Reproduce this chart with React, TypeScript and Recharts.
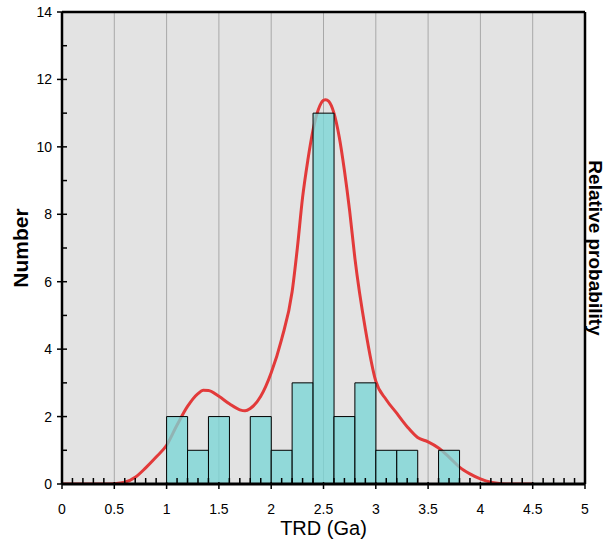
import React from 'react';
import { ComposedChart, Bar, Line, XAxis, YAxis, CartesianGrid, ReferenceLine } from 'recharts';

// Histogram bins (Ga, bin centre) and counts
const binCenters = [1.1, 1.3, 1.5, 1.7, 1.9, 2.1, 2.3, 2.5, 2.7, 2.9, 3.1, 3.3, 3.5, 3.7];
const binCounts = [2, 1, 2, 0, 2, 1, 3, 11, 2, 3, 1, 1, 0, 1];

// Relative probability curve (scaled to Number axis)
const probX = [0, 0.1, 0.2, 0.3, 0.4, 0.5, 0.6, 0.7, 0.8, 0.9, 1.0, 1.1, 1.2, 1.3, 1.35, 1.4, 1.5, 1.6, 1.7, 1.75, 1.8, 1.9, 2.0, 2.1, 2.2, 2.25, 2.3, 2.35, 2.4, 2.45, 2.5, 2.52, 2.55, 2.6, 2.65, 2.7, 2.75, 2.8, 2.9, 3.0, 3.1, 3.2, 3.3, 3.4, 3.5, 3.6, 3.7, 3.8, 3.9, 4.0, 4.1, 4.2, 4.3, 4.4, 4.5];
const probY = [0, 0, 0, 0, 0, 0.01, 0.05, 0.2, 0.48, 0.8, 1.15, 1.75, 2.3, 2.68, 2.78, 2.77, 2.6, 2.38, 2.2, 2.17, 2.24, 2.6, 3.3, 4.3, 5.7, 7.0, 8.5, 9.6, 10.5, 11.1, 11.38, 11.4, 11.35, 11.0, 10.3, 9.3, 8.1, 6.7, 4.6, 3.05, 2.5, 2.1, 1.7, 1.38, 1.25, 1.07, 0.8, 0.5, 0.3, 0.15, 0.05, 0.01, 0, 0, 0];

const yTicks = [0, 1, 2, 3, 4, 5, 6, 7, 8, 9, 10, 11, 12, 13, 14];
const xMajorTicks = [0, 0.5, 1, 1.5, 2, 2.5, 3, 3.5, 4, 4.5, 5];
const gridX = [0.5, 1, 1.5, 2, 2.5, 3, 3.5, 4, 4.5];
const xTicks = Array.from({ length: 51 }, (_, i) => i / 10);

const key = (v: number) => v.toFixed(2);
const rowMap = new Map<string, any>();
probX.forEach((x, i) => rowMap.set(key(x), { x, prob: probY[i] }));
binCenters.forEach((x, i) => {
  const r = rowMap.get(key(x)) || { x };
  r.bx = x;
  r.count = binCounts[i];
  rowMap.set(key(x), r);
});
const data = Array.from(rowMap.values()).sort((a, b) => a.x - b.x);

const FONT = 'Liberation Sans, Arial, sans-serif';

const YTick = (props: any) => {
  const { x, y, payload } = props;
  const v = payload.value;
  const major = v % 2 === 0;
  return (
    <g>
      {major ? (
        <line x1={x - 5} x2={x + 5} y1={y} y2={y} stroke="#000" strokeWidth={1.5} />
      ) : (
        <line x1={x} x2={x + 5} y1={y} y2={y} stroke="#000" strokeWidth={1.5} />
      )}
      {major && (
        <text x={x - 10} y={y} textAnchor="end" dominantBaseline="central" fontSize={14} fontFamily={FONT} fill="#000">
          {v}
        </text>
      )}
    </g>
  );
};

const XTick = (props: any) => {
  const { x, y, payload } = props;
  const v = payload.value;
  const major = xMajorTicks.some((m) => Math.abs(m - v) < 1e-6);
  return (
    <g>
      {major ? (
        <line x1={x} x2={x} y1={y - 2} y2={y + 5} stroke="#000" strokeWidth={1.5} />
      ) : (
        <line x1={x} x2={x} y1={y} y2={y - 6} stroke="#000" strokeWidth={1.5} />
      )}
      {major && (
        <text x={x} y={y + 25} textAnchor="middle" dominantBaseline="central" fontSize={14} fontFamily={FONT} fill="#000">
          {String(v)}
        </text>
      )}
    </g>
  );
};

const W = 606;
const H = 542;

export default function App() {
  return (
    <div style={{ position: 'absolute', left: 0, top: 0, width: W, height: H, background: '#fff' }}>
      <ComposedChart width={W} height={H} data={data} barCategoryGap={0} barGap={0} margin={{ top: 12, right: 0, bottom: 0, left: 0 }}>
        <CartesianGrid horizontal={false} vertical={false} fill="#e3e3e3" stroke="none" />
        {gridX.map((g) => (
          <ReferenceLine key={g} x={g} stroke="#a8a8a8" strokeWidth={1} />
        ))}
        <XAxis
          dataKey="x"
          type="number"
          domain={[0, 5]}
          ticks={xTicks}
          interval={0}
          height={58}
          tickSize={0}
          tickMargin={0}
          tickLine={false}
          tick={<XTick />}
          axisLine={{ stroke: '#000', strokeWidth: 3 }}
          allowDataOverflow
          label={(p: any) => {
            const vb = p.viewBox;
            return (
              <text x={vb.x + vb.width / 2} y={528} textAnchor="middle" dominantBaseline="central" fontSize={20} fontFamily={FONT} fill="#000">
                TRD (Ga)
              </text>
            );
          }}
        />
        <XAxis xAxisId="bins" dataKey="bx" type="number" domain={[0, 5]} hide allowDataOverflow />
        <YAxis
          domain={[0, 14]}
          ticks={yTicks}
          interval={0}
          width={62}
          tickSize={0}
          tickMargin={0}
          tickLine={false}
          tick={<YTick />}
          axisLine={{ stroke: '#000', strokeWidth: 2.5 }}
          allowDataOverflow
          label={(p: any) => {
            const vb = p.viewBox;
            const cy = vb.y + vb.height / 2;
            return (
              <text x={20} y={cy} transform={`rotate(-90, 20, ${cy})`} textAnchor="middle" dominantBaseline="central" fontSize={21} fontWeight="bold" fontFamily={FONT} fill="#000">
                Number
              </text>
            );
          }}
        />
        <YAxis
          yAxisId="rp"
          orientation="right"
          domain={[0, 1]}
          width={21}
          tick={false}
          tickLine={false}
          axisLine={false}
          label={(p: any) => {
            const vb = p.viewBox;
            const cy = vb.y + vb.height / 2;
            return (
              <text x={595.5} y={cy} transform={`rotate(90, 595.5, ${cy})`} textAnchor="middle" dominantBaseline="central" fontSize={19} fontWeight="bold" fontFamily={FONT} fill="#000">
                Relative probability
              </text>
            );
          }}
        />
        <Line
          dataKey="prob"
          type="monotone"
          stroke="#e23a3a"
          strokeWidth={3}
          dot={false}
          activeDot={false}
          connectNulls
          isAnimationActive={false}
        />
        <Bar
          dataKey="count"
          xAxisId="bins"
          fill="#7ad6d6"
          fillOpacity={0.78}
          stroke="#000"
          strokeWidth={1}
          isAnimationActive={false}
          zIndex={450}
        />
        <ReferenceLine y={14} stroke="#000" strokeWidth={2.5} />
        <ReferenceLine x={5} stroke="#000" strokeWidth={2.5} />
      </ComposedChart>
    </div>
  );
}
